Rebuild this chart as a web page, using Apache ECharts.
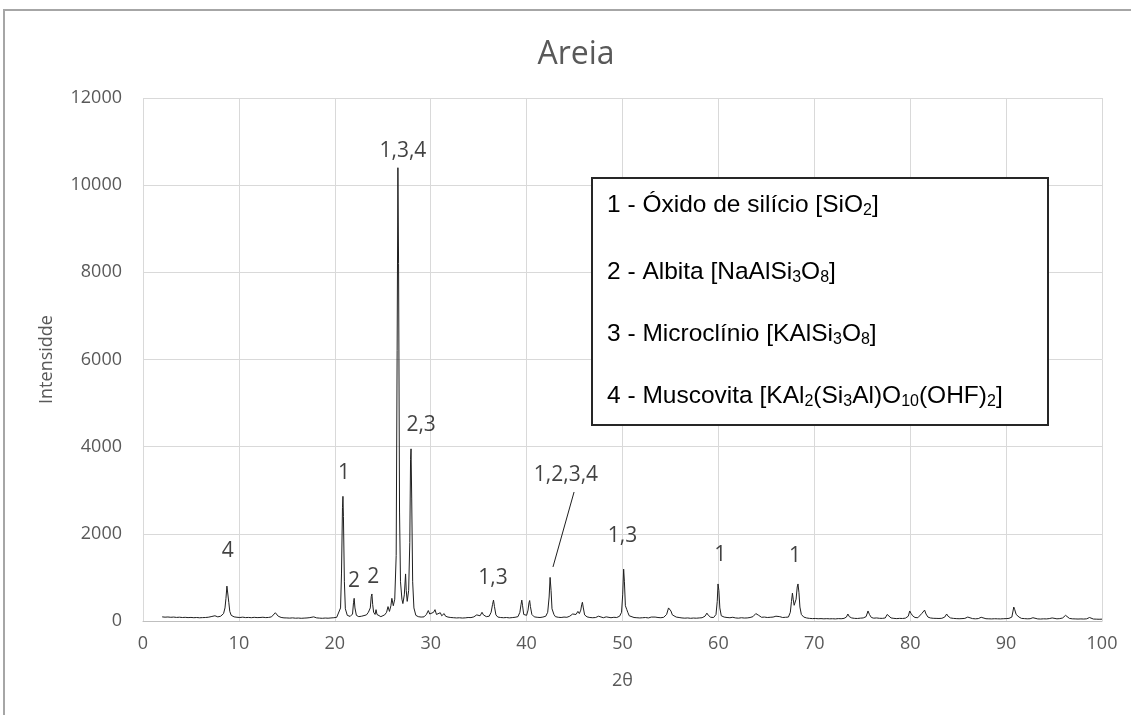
<!DOCTYPE html>
<html>
<head>
<meta charset="utf-8">
<title>Areia</title>
<script src="https://cdn.jsdelivr.net/npm/echarts@6/dist/echarts.min.js"></script>
<style>
  html, body { margin: 0; padding: 0; background: #ffffff; }
  #chart { width: 1131px; height: 715px; }
</style>
</head>
<body>
<div id="chart"></div>
<script>
// Difratograma da areia: pares [2θ, intensidade]
const pattern = [
  [2.0,95],[2.3,88],[2.6,92],[2.9,85],[3.2,90],[3.5,82],[3.8,87],[4.1,80],[4.4,84],[4.7,78],
  [5.0,82],[5.3,76],[5.6,80],[5.9,74],[6.2,78],[6.5,80],[6.8,86],[7.1,100],[7.3,140],[7.5,120],
  [7.8,95],[8.1,110],[8.4,170],[8.55,300],[8.65,520],[8.75,800],[8.85,760],[8.95,420],[9.05,220],
  [9.2,130],[9.5,95],[9.8,85],[10.1,80],[10.4,88],[10.7,78],[11.0,82],[11.3,76],[11.6,84],[11.9,78],
  [12.2,80],[12.5,86],[12.8,78],[13.1,82],[13.4,95],[13.6,130],[13.8,190],[13.95,170],[14.1,110],
  [14.4,82],[14.7,72],[15.0,70],[15.3,66],[15.6,72],[15.9,64],[16.2,68],[16.5,62],[16.8,66],[17.1,70],
  [17.4,78],[17.6,115],[17.8,95],[18.1,72],[18.4,66],[18.7,62],[19.0,68],[19.3,64],[19.6,70],[19.9,75],
  [20.2,85],[20.4,110],[20.6,300],[20.7,1100],[20.8,2600],[20.85,2860],[20.9,2400],[21.0,900],
  [21.1,280],[21.3,130],[21.6,105],[21.85,160],[21.95,420],[22.02,520],[22.1,300],[22.25,130],
  [22.5,100],[22.8,110],[23.0,95],[23.3,140],[23.5,200],[23.7,300],[23.8,560],[23.87,620],[23.95,380],
  [24.05,200],[24.2,150],[24.3,260],[24.4,150],[24.6,120],[24.8,100],[25.0,120],[25.2,140],[25.4,200],
  [25.55,330],[25.7,220],[25.85,350],[25.95,520],[26.1,350],[26.25,500],[26.4,1500],[26.5,6200],
  [26.58,10400],[26.65,8200],[26.75,2500],[26.85,900],[27.0,500],[27.1,400],[27.25,600],[27.38,1080],
  [27.45,700],[27.55,450],[27.7,700],[27.82,1800],[27.9,3700],[27.95,3950],[28.02,2800],[28.12,900],
  [28.25,300],[28.45,130],[28.7,100],[29.0,90],[29.3,95],[29.55,150],[29.75,240],[29.9,160],[30.1,130],
  [30.3,200],[30.45,260],[30.6,150],[30.8,130],[31.0,190],[31.15,120],[31.4,170],[31.55,110],[31.8,90],
  [32.1,80],[32.4,75],[32.7,70],[33.0,74],[33.3,68],[33.6,72],[33.9,80],[34.2,78],[34.5,95],[34.8,140],
  [35.0,180],[35.15,120],[35.35,200],[35.5,140],[35.8,100],[36.1,110],[36.3,200],[36.45,380],[36.55,480],
  [36.65,330],[36.8,140],[37.0,90],[37.3,80],[37.6,75],[37.9,80],[38.2,72],[38.5,78],[38.8,85],[39.1,100],
  [39.3,200],[39.42,380],[39.5,480],[39.58,350],[39.7,150],[39.85,110],[40.0,130],[40.15,250],[40.25,420],
  [40.32,470],[40.4,330],[40.55,150],[40.8,95],[41.1,85],[41.4,80],[41.7,90],[42.0,110],[42.2,200],
  [42.35,550],[42.45,1000],[42.55,700],[42.65,280],[42.75,250],[42.85,150],[43.0,100],[43.3,85],[43.6,80],
  [43.9,90],[44.2,85],[44.5,110],[44.8,160],[45.0,200],[45.15,150],[45.35,220],[45.5,170],[45.65,250],
  [45.75,380],[45.82,430],[45.9,320],[46.05,140],[46.3,95],[46.6,80],[46.9,75],[47.2,80],[47.5,110],
  [47.7,80],[48.0,75],[48.3,95],[48.5,80],[48.8,75],[49.1,85],[49.4,80],[49.7,110],[49.9,200],[50.02,600],
  [50.12,1190],[50.2,900],[50.3,350],[50.45,260],[50.55,200],[50.7,120],[50.9,90],[51.2,80],[51.5,75],
  [51.8,70],[52.1,75],[52.4,80],[52.7,70],[53.0,90],[53.2,110],[53.4,90],[53.7,80],[54.0,75],[54.3,85],
  [54.6,150],[54.8,300],[54.9,340],[55.05,230],[55.2,140],[55.4,110],[55.6,90],[55.9,80],[56.2,70],
  [56.5,65],[56.8,70],[57.1,62],[57.4,68],[57.7,64],[58.0,70],[58.3,75],[58.6,110],[58.8,180],[58.95,130],
  [59.2,85],[59.5,80],[59.75,150],[59.88,450],[59.96,850],[60.05,700],[60.15,300],[60.3,120],[60.6,90],
  [60.9,80],[61.2,75],[61.5,85],[61.8,70],[62.1,65],[62.4,75],[62.7,68],[63.0,70],[63.3,80],[63.6,100],
  [63.9,170],[64.05,210],[64.2,130],[64.5,85],[64.8,90],[65.1,80],[65.4,85],[65.7,90],[66.0,110],
  [66.2,140],[66.4,100],[66.7,80],[67.0,85],[67.3,90],[67.5,200],[67.62,450],[67.72,640],[67.8,500],
  [67.9,360],[68.0,340],[68.1,500],[68.22,780],[68.3,850],[68.4,650],[68.5,320],[68.65,150],[68.9,90],
  [69.2,70],[69.5,60],[69.8,55],[70.1,58],[70.4,52],[70.7,55],[71.0,50],[71.3,54],[71.6,50],[71.9,52],
  [72.2,48],[72.5,55],[72.8,52],[73.1,60],[73.35,90],[73.5,160],[73.65,100],[73.9,70],[74.2,60],[74.5,58],
  [74.8,65],[75.1,70],[75.4,100],[75.6,230],[75.75,150],[75.95,80],[76.2,65],[76.5,70],[76.8,62],[77.1,60],
  [77.4,70],[77.6,150],[77.75,110],[78.0,70],[78.3,60],[78.6,55],[78.9,60],[79.2,58],[79.5,65],[79.8,110],
  [79.95,230],[80.1,170],[80.25,120],[80.5,80],[80.8,75],[81.0,110],[81.2,170],[81.35,130],[81.5,250],
  [81.65,160],[81.85,90],[82.1,70],[82.4,62],[82.7,60],[83.0,58],[83.3,62],[83.6,90],[83.8,160],[83.95,110],
  [84.2,70],[84.5,60],[84.8,55],[85.1,52],[85.4,55],[85.7,60],[86.0,90],[86.2,65],[86.5,55],[86.8,50],
  [87.1,55],[87.4,85],[87.6,60],[87.9,52],[88.2,50],[88.5,48],[88.8,52],[89.1,50],[89.4,48],[89.7,52],
  [90.0,55],[90.3,60],[90.6,90],[90.8,320],[90.9,260],[91.05,150],[91.2,170],[91.35,90],[91.6,60],
  [91.9,55],[92.2,50],[92.5,52],[92.8,75],[93.0,55],[93.3,48],[93.6,45],[93.9,50],[94.2,48],[94.5,55],
  [94.8,70],[95.0,60],[95.3,50],[95.6,55],[95.9,70],[96.2,130],[96.35,100],[96.6,60],[96.9,50],[97.2,48],
  [97.5,45],[97.8,48],[98.1,45],[98.4,50],[98.7,80],[98.85,60],[99.1,45],[99.4,42],[99.7,40],[100.0,42]
];

// Identificação dos picos (posição do rótulo em 2θ e intensidade)
const peakLabels = ['4', '1', '2', '2', '1,3,4', '2,3', '1,3', '1,2,3,4', '1,3', '1', '1'];
const peakLabelX = [8.85, 20.95, 22.0, 24.0, 27.1, 29.0, 36.5, 44.1, 50.0, 60.2, 68.0];
const peakLabelY = [1610, 3400, 920, 1010, 10780, 4500, 990, 3350, 1950, 1510, 1490];

// Linha de chamada do rótulo 1,2,3,4
const leaderLine = [[44.95, 2960], [42.75, 1240]];

// Eixos
const xTicks = { min: 0, max: 100, interval: 10 };
const yTicks = { min: 0, max: 12000, interval: 2000 };

// Legenda das fases
const phaseLines = [
  '1 - Óxido de silício [SiO{s|2}]',
  '2 - Albita [NaAlSi{s|3}O{s|8}]',
  '3 - Microclínio [KAlSi{s|3}O{s|8}]',
  '4 - Muscovita [KAl{s|2}(Si{s|3}Al)O{s|10}(OHF){s|2}]'
];

const chart = echarts.init(document.getElementById('chart'), null, { renderer: 'canvas' });

const axisFont = '"Open Sans", "DejaVu Sans", sans-serif';
const axisColor = '#595959';
const legendFont = '"Liberation Sans", Arial, sans-serif';

const legendRowY = [205, 272, 334, 396];
const legendGraphics = [
  {
    type: 'rect',
    shape: { x: 592, y: 178, width: 456, height: 247 },
    style: { fill: '#ffffff', stroke: '#262626', lineWidth: 2 },
    z: 100
  }
].concat(phaseLines.map(function (txt, i) {
  return {
    type: 'text',
    x: 607,
    y: legendRowY[i],
    z: 101,
    style: {
      text: txt,
      fill: '#000000',
      font: '24.5px ' + legendFont,
      fontSize: 24.5,
      fontFamily: legendFont,
      lineHeight: 27,
      textAlign: 'left',
      align: 'left',
      textVerticalAlign: 'middle',
      verticalAlign: 'middle',
      rich: {
        s: {
          fontSize: 16,
          fontFamily: legendFont,
          fill: '#000000',
          lineHeight: 9,
          verticalAlign: 'bottom'
        }
      }
    }
  };
}));

const option = {
  animation: false,
  backgroundColor: '#ffffff',
  grid: { left: 143, right: 29, top: 98, bottom: 94, containLabel: false },
  xAxis: {
    type: 'value',
    min: xTicks.min,
    max: xTicks.max,
    interval: xTicks.interval,
    name: '2θ',
    nameLocation: 'middle',
    nameGap: 51,
    nameTextStyle: { fontFamily: axisFont, fontSize: 18, color: axisColor },
    axisLine: { show: true, lineStyle: { color: '#bfbfbf', width: 1 } },
    axisTick: { show: false },
    axisLabel: { fontFamily: axisFont, fontSize: 18, color: axisColor, margin: 14 },
    splitLine: { show: true, lineStyle: { color: '#d9d9d9', width: 1 } }
  },
  yAxis: {
    type: 'value',
    min: yTicks.min,
    max: yTicks.max,
    interval: yTicks.interval,
    name: 'Intensidde',
    nameLocation: 'middle',
    nameGap: 87,
    nameTextStyle: { fontFamily: axisFont, fontSize: 18, color: axisColor },
    axisLine: { show: false },
    axisTick: { show: false },
    axisLabel: {
      fontFamily: axisFont, fontSize: 18, color: axisColor, margin: 21,
      formatter: function (v) { return String(v); }
    },
    splitLine: { show: true, lineStyle: { color: '#d9d9d9', width: 1 } }
  },
  series: [
    {
      type: 'line',
      data: pattern,
      showSymbol: false,
      symbol: 'none',
      lineStyle: { color: '#1f1f1f', width: 1 },
      silent: true,
      z: 5
    },
    {
      type: 'line',
      data: leaderLine,
      showSymbol: false,
      symbol: 'none',
      lineStyle: { color: '#1f1f1f', width: 1 },
      silent: true,
      z: 6
    },
    {
      type: 'scatter',
      data: peakLabels.map(function (t, i) {
        return { name: t, value: [peakLabelX[i], peakLabelY[i]] };
      }),
      symbolSize: 0,
      silent: true,
      z: 7,
      label: {
        show: true,
        position: 'inside',
        formatter: function (p) { return p.name; },
        fontFamily: axisFont,
        fontSize: 21,
        color: '#111111'
      }
    }
  ],
  graphic: [
    {
      type: 'rect',
      shape: { x: 4, y: 10, width: 1400, height: 1000 },
      style: { fill: 'none', stroke: '#a6a6a6', lineWidth: 2 },
      silent: true,
      z: 0
    },
    {
      type: 'text',
      x: 576,
      y: 55,
      style: {
        text: 'Areia',
        fill: axisColor,
        font: '32px "Open Sans", sans-serif',
        fontSize: 32,
        fontFamily: '"Open Sans", sans-serif',
        textAlign: 'center',
        align: 'center',
        textVerticalAlign: 'middle',
        verticalAlign: 'middle'
      },
      z: 10
    }
  ].concat(legendGraphics)
};

chart.setOption(option);
</script>
</body>
</html>
